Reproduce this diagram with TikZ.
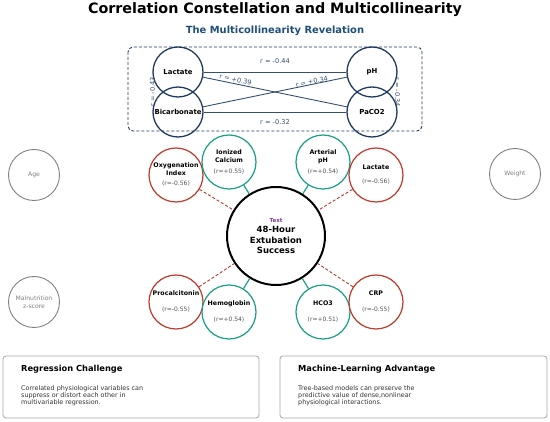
\documentclass[tikz,border=0pt]{standalone}
\usepackage{fontspec}
\setmainfont{DejaVu Sans}
\definecolor{navy}{HTML}{1F3A5F}
\definecolor{slate}{HTML}{34506F}
\definecolor{tealc}{HTML}{17A085}
\definecolor{redc}{HTML}{C0392B}
\definecolor{rgray}{HTML}{555555}
\definecolor{cgray}{HTML}{808080}
\definecolor{subblue}{HTML}{1F4E79}
\definecolor{tpurple}{HTML}{7D3C98}
\newcommand{\rv}[1]{{\fontsize{6}{7}\mdseries\selectfont\color{rgray}#1}}

\begin{document}
\begin{tikzpicture}[x=1pt,y=-1pt,
    topc/.style={circle,draw=navy,line width=1.3pt,minimum size=50pt,inner sep=0pt,font=\fontsize{6.9}{8}\bfseries\selectfont},
    corr/.style={draw=slate,line width=0.9pt},
    elabel/.style={font=\fontsize{6.6}{8}\selectfont,text=slate,inner sep=1pt},
    posc/.style={circle,draw=tealc,line width=1.2pt,fill=white,minimum size=54pt,inner sep=0pt,align=center,font=\fontsize{6.3}{8}\bfseries\selectfont},
    negc/.style={posc,draw=redc},
    grayc/.style={circle,draw=cgray,line width=0.9pt,minimum size=51pt,inner sep=0pt,align=center,text=cgray,font=\fontsize{6.1}{7.5}\selectfont},
    poslink/.style={draw=tealc,line width=1.2pt},
    neglink/.style={draw=redc,line width=0.9pt,dash pattern=on 3pt off 2pt},
    card/.style={draw=black!35,line width=0.8pt,rounded corners=3pt,minimum width=256pt,minimum height=62pt,inner sep=0pt},
    cardhead/.style={anchor=west,font=\fontsize{8.3}{10}\bfseries\selectfont,inner sep=0pt},
    cardtext/.style={anchor=north west,align=left,font=\fontsize{6.4}{7.4}\selectfont,text=black!80,inner sep=0pt}]

\useasboundingbox (0,0) rectangle (550,422);

% titles
\node[font=\fontsize{14.3}{16}\bfseries\selectfont] (title) at (275,10) {Correlation Constellation and Multicollinearity};
\node[font=\fontsize{9.9}{11}\bfseries\selectfont,text=subblue] (subtitle) at (275,31) {The Multicollinearity Revelation};

% multicollinearity cluster
\draw[navy,line width=0.9pt,dash pattern=on 3pt off 2pt,rounded corners=5pt] (128,47) rectangle (422,131);
\node[topc] (lac) at (178,72) {Lactate};
\node[topc] (bic) at (178,112) {Bicarbonate};
\node[topc] (ph) at (372,72) {pH};
\node[topc] (pac) at (372,112) {PaCO2};
\draw[corr] (lac) -- node[elabel,above=7pt] {r = -0.44} (ph);
\draw[corr] (bic) -- node[elabel,below=6pt] {r = -0.32} (pac);
\draw[corr] (lac) -- node[elabel,sloped,above,pos=0.22] {r = +0.39} (pac);
\draw[corr] (bic) -- node[elabel,sloped,above=-1pt,pos=0.76] {r = +0.34} (ph);
\path (lac.west) -- node[elabel,rotate=90] {r = -0.43} (bic.west);
\path (ph.east) -- node[elabel,rotate=-90] {r = -0.34} (pac.east);

% predictors around the outcome
\node[negc] (oxy) at (176,175) {Oxygenation\\Index\\[2pt]\rv{(r=-0.56)}};
\node[posc] (ica) at (229,162) {Ionized\\Calcium\\[3pt]\rv{(r=+0.55)}};
\node[posc] (aph) at (323,162) {Arterial\\pH\\[3pt]\rv{(r=+0.54)}};
\node[negc] (lacb) at (376,175) {Lactate\\[6pt]\rv{(r=-0.56)}};
\node[negc] (pct) at (176,302) {Procalcitonin\\[8pt]\rv{(r=-0.55)}};
\node[posc] (hgb) at (229,312) {Hemoglobin\\[8pt]\rv{(r=+0.54)}};
\node[posc] (hco) at (323,312) {HCO3\\[8pt]\rv{(r=+0.51)}};
\node[negc] (crp) at (376,302) {CRP\\[8pt]\rv{(r=-0.55)}};

\node[circle,draw=black,line width=2pt,fill=white,minimum size=98pt,inner sep=0pt,align=center,font=\fontsize{8.5}{10.5}\bfseries\selectfont] (out) at (276,236)
    {{\fontsize{5.5}{6}\selectfont\color{tpurple}Text}\\48-Hour\\Extubation\\Success};

\draw[poslink] (ica) -- (out);
\draw[poslink] (aph) -- (out);
\draw[poslink] (hgb) -- (out);
\draw[poslink] (hco) -- (out);
\draw[neglink] (oxy) -- (out);
\draw[neglink] (lacb) -- (out);
\draw[neglink] (pct) -- (out);
\draw[neglink] (crp) -- (out);

% unlinked covariates
\node[grayc] (age) at (34,175) {Age};
\node[grayc] (wt) at (515,174) {Weight};
\node[grayc] (mal) at (34,302) {Malnutrition\\z-score};

% note cards
\node[card] (reg) at (131,387) {};
\node[cardhead] (regh) at (21,369) {Regression Challenge};
\node[cardtext] (regt) at (21,385) {Correlated physiological variables can\\suppress or distort each other in\\multivariable regression.};
\node[card,minimum width=267pt] (ml) at (413.5,387) {};
\node[cardhead] (mlh) at (298,369) {Machine-Learning Advantage};
\node[cardtext] (mlt) at (298,385) {Tree-based models can preserve the\\predictive value of dense,nonlinear\\physiological interactions.};
\end{tikzpicture}
\end{document}
